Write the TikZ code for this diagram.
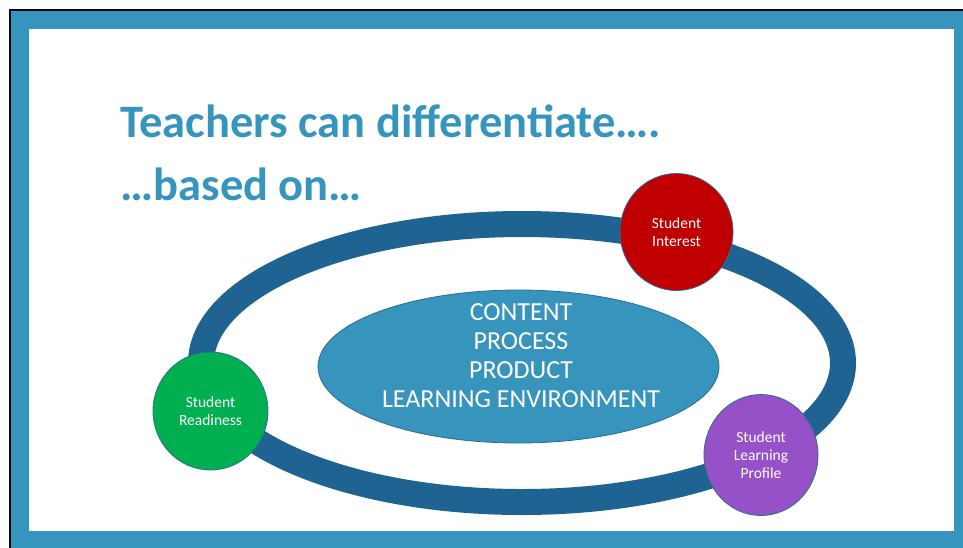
\documentclass[tikz,border=0pt]{standalone}
\usepackage{fontspec}
\setmainfont{Carlito}
\usetikzlibrary{shapes.geometric}
\definecolor{frameblue}{HTML}{3595BD}
\definecolor{ringblue}{HTML}{1F6392}
\definecolor{coreblue}{HTML}{3794BC}
\definecolor{edgeblue}{HTML}{2A6E92}
\definecolor{interestred}{HTML}{C00000}
\definecolor{readygreen}{HTML}{00B050}
\definecolor{profilepurple}{HTML}{9651C9}
\tikzset{
  bubble/.style={ellipse, draw=edgeblue, line width=.8pt, inner sep=0pt,
    text=white, align=center, font=\fontsize{15.5}{18}\selectfont},
  titletext/.style={anchor=base west, text=frameblue,
    font=\bfseries\fontsize{46.5}{46.5}\selectfont}
}
\begin{document}
\begin{tikzpicture}[x=1pt, y=-1pt]
  \useasboundingbox (0,0) rectangle (963,547);
  % frame
  \fill[frameblue] (10,10) rectangle (975,560);
  \draw[line width=2pt] (10,560) -- (10,10) -- (975,10);
  \fill[white] (29,29) rectangle (954,531);
  % title
  \node[titletext] (title) at (117,137) {Teachers can differentiate….};
  \node[titletext] (basis) at (117,200) {…based on…};
  % ring and core
  \node[ellipse, draw=ringblue, line width=26pt, inner sep=0pt,
    minimum width=642, minimum height=278] (ring) at (522,363) {};
  \node[ellipse, draw=edgeblue, fill=coreblue, line width=.8pt, inner sep=0pt,
    minimum width=401, minimum height=153] (core) at (518.5,366.5) {};
  \node[text=white, align=center, font=\fontsize{26}{29}\selectfont]
    (topics) at (521,356) {CONTENT\\PROCESS\\PRODUCT\\LEARNING ENVIRONMENT};
  % students
  \node[bubble, fill=interestred, minimum width=113, minimum height=117]
    (interest) at (676.5,232) {Student\\Interest};
  \node[bubble, fill=readygreen, minimum width=115, minimum height=118]
    (readiness) at (210.5,411) {Student\\Readiness};
  \node[bubble, fill=profilepurple, minimum width=114, minimum height=121]
    (profile) at (761,455) {Student\\Learning\\Profile};
\end{tikzpicture}
\end{document}
